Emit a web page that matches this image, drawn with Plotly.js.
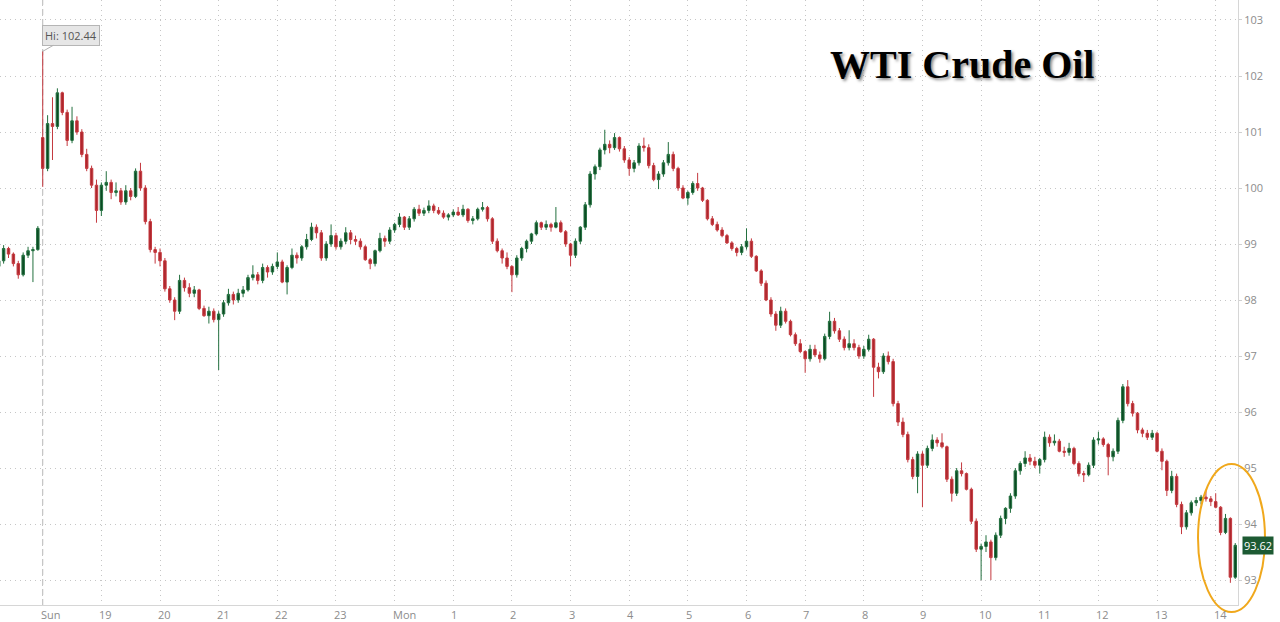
<!DOCTYPE html>
<html>
<head>
<meta charset="utf-8">
<script src="https://cdn.plot.ly/plotly-3.0.1.min.js"></script>
<style>
  html, body { margin: 0; padding: 0; background: #ffffff; }
  #chart { width: 1280px; height: 622px; }
</style>
</head>
<body>
<div id="chart"></div>
<script>
// Minutes relative to the Sunday 18:00 open (5-minute candles)
const minutes = [-45, -40, -35, -30, -25, -20, -15, -10, -5,
  0, 5, 10, 15, 20, 25, 30, 35, 40, 45,
  50, 55, 60, 65, 70, 75, 80, 85, 90, 95,
  100, 105, 110, 115, 120, 125, 130, 135, 140, 145,
  150, 155, 160, 165, 170, 175, 180, 185, 190, 195,
  200, 205, 210, 215, 220, 225, 230, 235, 240, 245,
  250, 255, 260, 265, 270, 275, 280, 285, 290, 295,
  300, 305, 310, 315, 320, 325, 330, 335, 340, 345,
  350, 355, 360, 365, 370, 375, 380, 385, 390, 395,
  400, 405, 410, 415, 420, 425, 430, 435, 440, 445,
  450, 455, 460, 465, 470, 475, 480, 485, 490, 495,
  500, 505, 510, 515, 520, 525, 530, 535, 540, 545,
  550, 555, 560, 565, 570, 575, 580, 585, 590, 595,
  600, 605, 610, 615, 620, 625, 630, 635, 640, 645,
  650, 655, 660, 665, 670, 675, 680, 685, 690, 695,
  700, 705, 710, 715, 720, 725, 730, 735, 740, 745,
  750, 755, 760, 765, 770, 775, 780, 785, 790, 795,
  800, 805, 810, 815, 820, 825, 830, 835, 840, 845,
  850, 855, 860, 865, 870, 875, 880, 885, 890, 895,
  900, 905, 910, 915, 920, 925, 930, 935, 940, 945,
  950, 955, 960, 965, 970, 975, 980, 985, 990, 995,
  1000, 1005, 1010, 1015, 1020, 1025, 1030, 1035, 1040, 1045,
  1050, 1055, 1060, 1065, 1070, 1075, 1080, 1085, 1090, 1095,
  1100, 1105, 1110, 1115, 1120, 1125, 1130, 1135, 1140, 1145,
  1150, 1155, 1160, 1165, 1170, 1175, 1180, 1185, 1190, 1195,
  1200, 1205, 1210, 1215, 1220];

const opens = [98.6, 98.7, 98.92, 98.82, 98.65, 98.45, 98.8, 98.88, 98.9,
  100.9, 100.35, 101.15, 101.1, 101.7, 101.35, 100.85, 101.2, 101.0, 100.6,
  100.35, 100.05, 99.6, 100.05, 100.1, 99.92, 99.95, 99.75, 99.95, 99.85,
  100.3, 100.0, 99.4, 98.9, 98.85, 98.7, 98.2, 98.0, 97.8, 98.35,
  98.22, 98.12, 98.18, 97.85, 97.72, 97.8, 97.65, 97.75, 97.95, 98.1,
  98.0, 98.12, 98.18, 98.4, 98.45, 98.35, 98.58, 98.5, 98.6, 98.68,
  98.32, 98.58, 98.8, 98.75, 98.95, 99.08, 99.3, 99.2, 98.75, 99.0,
  99.15, 98.95, 99.05, 99.2, 99.08, 99.05, 98.95, 98.72, 98.65, 98.88,
  99.1, 99.05, 99.25, 99.35, 99.48, 99.3, 99.45, 99.62, 99.55, 99.6,
  99.68, 99.6, 99.55, 99.48, 99.52, 99.57, 99.52, 99.62, 99.42, 99.45,
  99.62, 99.65, 99.45, 99.05, 98.88, 98.75, 98.6, 98.45, 98.75, 98.92,
  99.05, 99.18, 99.38, 99.3, 99.35, 99.3, 99.38, 99.22, 99.0, 98.8,
  99.05, 99.3, 99.7, 100.25, 100.38, 100.68, 100.78, 100.72, 100.9, 100.7,
  100.5, 100.35, 100.45, 100.75, 100.72, 100.4, 100.15, 100.25, 100.45, 100.6,
  100.35, 100.0, 99.82, 99.92, 100.08, 100.0, 99.78, 99.45, 99.35, 99.25,
  99.15, 99.02, 98.92, 98.85, 98.95, 99.05, 98.78, 98.52, 98.3, 98.0,
  97.75, 97.55, 97.8, 97.62, 97.38, 97.22, 97.08, 96.95, 97.12, 97.02,
  96.95, 97.35, 97.62, 97.45, 97.3, 97.15, 97.22, 97.15, 97.0, 97.12,
  97.3, 96.8, 96.72, 97.0, 96.9, 96.15, 95.82, 95.6, 95.15, 94.85,
  95.25, 95.05, 95.35, 95.5, 95.45, 95.38, 94.8, 94.55, 94.95, 94.9,
  94.62, 94.05, 93.55, 93.6, 93.68, 93.4, 93.8, 94.1, 94.28, 94.5,
  94.95, 95.08, 95.18, 95.12, 95.05, 95.15, 95.55, 95.45, 95.48, 95.3,
  95.28, 95.35, 95.08, 94.9, 94.88, 95.05, 95.5, 95.52, 95.42, 95.2,
  95.3, 95.85, 96.45, 96.15, 95.98, 95.68, 95.62, 95.55, 95.62, 95.3,
  95.12, 94.6, 94.85, 94.35, 93.95, 94.2, 94.38, 94.42, 94.48, 94.45,
  94.4, 94.3, 93.85, 94.1, 93.05];

const highs = [98.8, 98.98, 98.95, 98.85, 98.7, 98.85, 98.95, 98.95, 99.32,
  102.44, 101.3, 101.62, 101.78, 101.72, 101.4, 101.45, 101.28, 101.05, 100.7,
  100.4, 100.15, 100.1, 100.3, 100.15, 100.1, 100.0, 100.05, 100.0, 100.35,
  100.45, 100.05, 99.45, 98.95, 98.92, 98.75, 98.25, 98.05, 98.45, 98.4,
  98.3, 98.25, 98.2, 97.9, 97.88, 97.85, 97.8, 98.0, 98.2, 98.15,
  98.2, 98.25, 98.45, 98.62, 98.5, 98.65, 98.62, 98.65, 98.85, 98.72,
  98.62, 98.92, 98.85, 98.98, 99.18, 99.38, 99.35, 99.25, 99.05, 99.35,
  99.2, 99.1, 99.3, 99.25, 99.15, 99.1, 98.98, 98.75, 98.9, 99.2,
  99.15, 99.3, 99.38, 99.55, 99.5, 99.5, 99.66, 99.7, 99.65, 99.78,
  99.72, 99.66, 99.6, 99.55, 99.62, 99.66, 99.7, 99.64, 99.5, 99.65,
  99.75, 99.68, 99.48, 99.1, 98.92, 98.85, 98.62, 98.8, 98.95, 99.08,
  99.2, 99.42, 99.4, 99.42, 99.38, 99.66, 99.42, 99.25, 99.02, 99.1,
  99.32, 99.75, 100.3, 100.42, 100.72, 101.04, 100.85, 100.98, 100.92, 100.75,
  100.55, 100.5, 100.8, 100.9, 100.78, 100.45, 100.3, 100.5, 100.82, 100.65,
  100.38, 100.05, 99.95, 100.12, 100.27, 100.02, 99.8, 99.5, 99.4, 99.3,
  99.18, 99.05, 98.95, 99.0, 99.28, 99.1, 98.8, 98.55, 98.35, 98.05,
  97.8, 97.88, 97.85, 97.65, 97.42, 97.3, 97.1, 97.2, 97.2, 97.08,
  97.4, 97.79, 97.68, 97.5, 97.35, 97.46, 97.3, 97.2, 97.18, 97.38,
  97.32, 96.88, 97.05, 97.08, 96.95, 96.2, 95.9, 95.65, 95.2, 95.3,
  95.3, 95.4, 95.6, 95.55, 95.62, 95.4, 94.85, 95.0, 95.1, 94.92,
  94.65, 94.1, 93.65, 93.8, 93.72, 93.85, 94.15, 94.3, 94.55, 95.0,
  95.12, 95.3, 95.25, 95.2, 95.18, 95.65, 95.6, 95.6, 95.52, 95.38,
  95.45, 95.38, 95.12, 94.95, 95.1, 95.55, 95.65, 95.55, 95.45, 95.35,
  95.9, 96.5, 96.57, 96.2, 96.0, 95.72, 95.68, 95.68, 95.65, 95.35,
  95.15, 94.95, 94.9, 94.4, 94.25, 94.42, 94.48, 94.52, 94.6, 94.5,
  94.55, 94.32, 94.18, 94.12, 93.66];

const lows = [98.5, 98.65, 98.75, 98.6, 98.38, 98.42, 98.75, 98.32, 98.88,
  100.02, 100.3, 100.5, 101.05, 101.3, 100.75, 100.8, 100.95, 100.55, 100.3,
  100.0, 99.38, 99.5, 99.95, 99.8, 99.85, 99.7, 99.7, 99.78, 99.82,
  99.95, 99.35, 98.85, 98.65, 98.6, 98.15, 97.95, 97.64, 97.75, 98.15,
  98.05, 98.05, 97.82, 97.7, 97.58, 97.6, 96.75, 97.7, 97.9, 97.92,
  97.95, 98.05, 98.15, 98.35, 98.28, 98.3, 98.4, 98.45, 98.55, 98.3,
  98.1, 98.55, 98.65, 98.7, 98.9, 99.05, 99.1, 98.7, 98.7, 98.95,
  98.9, 98.9, 99.0, 99.0, 98.98, 98.9, 98.7, 98.55, 98.6, 98.85,
  98.95, 99.0, 99.2, 99.3, 99.25, 99.25, 99.4, 99.5, 99.5, 99.55,
  99.55, 99.52, 99.45, 99.42, 99.48, 99.5, 99.48, 99.38, 99.35, 99.42,
  99.58, 99.4, 99.0, 98.85, 98.65, 98.55, 98.14, 98.4, 98.7, 98.85,
  99.0, 99.15, 99.25, 99.25, 99.22, 99.28, 99.2, 98.95, 98.6, 98.75,
  99.0, 99.25, 99.65, 100.15, 100.32, 100.6, 100.62, 100.68, 100.65, 100.45,
  100.22, 100.28, 100.4, 100.65, 100.35, 100.12, 99.98, 100.2, 100.4, 100.3,
  99.95, 99.8, 99.7, 99.88, 99.95, 99.75, 99.42, 99.32, 99.22, 99.12,
  99.0, 98.88, 98.78, 98.8, 98.9, 98.75, 98.5, 98.25, 97.98, 97.7,
  97.45, 97.5, 97.58, 97.35, 97.18, 97.05, 96.7, 96.9, 96.98, 96.88,
  96.92, 97.3, 97.4, 97.25, 97.1, 97.1, 97.1, 96.95, 96.95, 97.08,
  96.27, 96.6, 96.68, 96.85, 96.1, 95.75, 95.55, 95.1, 94.8, 94.55,
  94.3, 95.0, 95.3, 95.38, 95.35, 94.75, 94.4, 94.5, 94.85, 94.6,
  94.0, 93.5, 93.0, 93.5, 93.0, 93.35, 93.75, 94.0, 94.2, 94.45,
  94.88, 95.02, 95.05, 95.0, 94.9, 95.1, 95.38, 95.4, 95.28, 95.2,
  95.22, 95.05, 94.85, 94.75, 94.85, 95.0, 95.42, 95.38, 94.87, 95.12,
  95.25, 95.8, 96.1, 95.92, 95.62, 95.55, 95.5, 95.5, 95.28, 94.96,
  94.5, 94.55, 94.3, 93.82, 93.9, 94.15, 94.32, 94.35, 94.4, 94.32,
  94.28, 93.8, 93.82, 92.95, 93.02];

const closes = [98.7, 98.92, 98.82, 98.65, 98.45, 98.8, 98.88, 98.9, 99.28,
  100.35, 101.15, 101.1, 101.7, 101.35, 100.85, 101.2, 101.0, 100.6, 100.35,
  100.05, 99.6, 100.05, 100.1, 99.92, 99.95, 99.75, 99.95, 99.85, 100.3,
  100.0, 99.4, 98.9, 98.85, 98.7, 98.2, 98.0, 97.8, 98.35, 98.22,
  98.12, 98.18, 97.85, 97.72, 97.8, 97.65, 97.75, 97.95, 98.1, 98.0,
  98.12, 98.18, 98.4, 98.45, 98.35, 98.58, 98.5, 98.6, 98.68, 98.32,
  98.58, 98.8, 98.75, 98.95, 99.08, 99.3, 99.2, 98.75, 99.0, 99.15,
  98.95, 99.05, 99.2, 99.08, 99.05, 98.95, 98.72, 98.65, 98.88, 99.1,
  99.05, 99.25, 99.35, 99.48, 99.3, 99.45, 99.62, 99.55, 99.6, 99.68,
  99.6, 99.55, 99.48, 99.52, 99.57, 99.52, 99.62, 99.42, 99.45, 99.62,
  99.65, 99.45, 99.05, 98.88, 98.75, 98.6, 98.45, 98.75, 98.92, 99.05,
  99.18, 99.38, 99.3, 99.35, 99.3, 99.38, 99.22, 99.0, 98.8, 99.05,
  99.3, 99.7, 100.25, 100.38, 100.68, 100.78, 100.72, 100.9, 100.7, 100.5,
  100.35, 100.45, 100.75, 100.72, 100.4, 100.15, 100.25, 100.45, 100.6, 100.35,
  100.0, 99.82, 99.92, 100.08, 100.0, 99.78, 99.45, 99.35, 99.25, 99.15,
  99.02, 98.92, 98.85, 98.95, 99.05, 98.78, 98.52, 98.3, 98.0, 97.75,
  97.55, 97.8, 97.62, 97.38, 97.22, 97.08, 96.95, 97.12, 97.02, 96.95,
  97.35, 97.62, 97.45, 97.3, 97.15, 97.22, 97.15, 97.0, 97.12, 97.3,
  96.8, 96.72, 97.0, 96.9, 96.15, 95.82, 95.6, 95.15, 94.85, 95.25,
  95.05, 95.35, 95.5, 95.45, 95.38, 94.8, 94.55, 94.95, 94.9, 94.62,
  94.05, 93.55, 93.6, 93.68, 93.4, 93.8, 94.1, 94.28, 94.5, 94.95,
  95.08, 95.18, 95.12, 95.05, 95.15, 95.55, 95.45, 95.48, 95.3, 95.28,
  95.35, 95.08, 94.9, 94.88, 95.05, 95.5, 95.52, 95.42, 95.2, 95.3,
  95.85, 96.45, 96.15, 95.98, 95.68, 95.62, 95.55, 95.62, 95.3, 95.12,
  94.6, 94.85, 94.35, 93.95, 94.2, 94.38, 94.42, 94.48, 94.45, 94.4,
  94.3, 93.85, 94.1, 93.05, 93.62];

const tickMinutes = [0, 60, 120, 180, 240, 300, 360, 420, 480, 540, 600, 660, 720, 780, 840, 900, 960, 1020, 1080, 1140, 1200];
const tickLabels = ['Sun', '19', '20', '21', '22', '23', 'Mon', '1', '2', '3', '4', '5', '6', '7', '8', '9', '10', '11', '12', '13', '14'];
const priceTicks = [93, 94, 95, 96, 97, 98, 99, 100, 101, 102, 103];

const highValue = Math.max(...highs);
const highIndex = highs.indexOf(highValue);
const lastClose = closes[closes.length - 1];

const trace = {
  type: 'candlestick',
  x: minutes,
  open: opens,
  high: highs,
  low: lows,
  close: closes,
  increasing: { line: { color: '#23703f', width: 1 }, fillcolor: '#0b4a23' },
  decreasing: { line: { color: '#c4393f', width: 1 }, fillcolor: '#ad272d' },
  whiskerwidth: 0,
  hoverinfo: 'skip',
  showlegend: false
};

const tickFont = { family: 'Open Sans, sans-serif', size: 11, color: '#8c8c8c' };

const xLabelAnnotations = tickMinutes.map((m, i) => ({
  x: m, xref: 'x', y: 0, yref: 'paper',
  xanchor: 'left', yanchor: 'top', xshift: -3, yshift: -1,
  borderpad: 0,
  text: tickLabels[i], showarrow: false,
  font: tickFont
}));

const layout = {
  width: 1280,
  height: 622,
  margin: { l: 0, r: 42, t: 0, b: 17, pad: 0 },
  paper_bgcolor: '#ffffff',
  plot_bgcolor: '#ffffff',
  boxgap: 0.28,
  showlegend: false,
  xaxis: {
    type: 'linear',
    range: [-43.7, 1222.8],
    tickmode: 'array',
    tickvals: tickMinutes,
    showticklabels: false,
    ticks: '',
    showgrid: true,
    gridcolor: '#c6c6c6',
    griddash: '1px,4px',
    gridwidth: 1,
    showline: true,
    linecolor: '#d6d6d6',
    linewidth: 1,
    zeroline: false,
    rangeslider: { visible: false },
    fixedrange: true
  },
  yaxis: {
    side: 'right',
    range: [92.554, 103.357],
    tickmode: 'array',
    tickvals: priceTicks,
    tickfont: tickFont,
    ticks: 'outside',
    ticklen: 3,
    tickcolor: '#d0d0d0',
    showgrid: true,
    gridcolor: '#c6c6c6',
    griddash: '1px,4px',
    gridwidth: 1,
    showline: true,
    linecolor: '#d6d6d6',
    linewidth: 1,
    zeroline: false,
    fixedrange: true
  },
  shapes: [
    {
      type: 'line', xref: 'x', yref: 'paper',
      x0: 0, x1: 0, y0: 0, y1: 1,
      line: { color: '#b8b8b8', width: 1, dash: '6px,4px' },
      layer: 'below'
    },
    {
      type: 'circle', xref: 'paper', yref: 'paper',
      x0: 0.9677, x1: 1.0218, y0: -0.0116, y1: 0.233,
      line: { color: '#f0a81c', width: 2 },
      layer: 'above'
    }
  ],
  annotations: xLabelAnnotations.concat([
    {
      x: minutes[highIndex], y: highValue, xref: 'x', yref: 'y',
      text: 'Hi: ' + highValue.toFixed(2),
      showarrow: true, arrowhead: 0, arrowwidth: 1, arrowcolor: '#b0b0b0',
      ax: 28, ay: -16,
      bgcolor: '#e6e6e6', bordercolor: '#b5b5b5', borderwidth: 1, borderpad: 2,
      font: { family: 'Open Sans, sans-serif', size: 11, color: '#555555' }
    },
    {
      x: 1, xref: 'paper', xanchor: 'left', xshift: 4,
      y: lastClose, yref: 'y', yanchor: 'middle',
      text: lastClose.toFixed(2),
      showarrow: false,
      bgcolor: '#1d5a33', borderpad: 1,
      font: { family: 'Open Sans, sans-serif', size: 11, color: '#ffffff' }
    },
    {
      x: 0.777, y: 0.893, xref: 'paper', yref: 'paper',
      xanchor: 'center', yanchor: 'middle',
      text: '<b>WTI Crude Oil</b>',
      showarrow: false,
      font: {
        family: 'Liberation Serif, Times New Roman, serif', size: 40, color: '#000000',
        shadow: '2px 2px 3px rgba(0,0,0,0.45)'
      }
    }
  ])
};

Plotly.newPlot('chart', [trace], layout, { displayModeBar: false, staticPlot: true });
</script>
</body>
</html>
